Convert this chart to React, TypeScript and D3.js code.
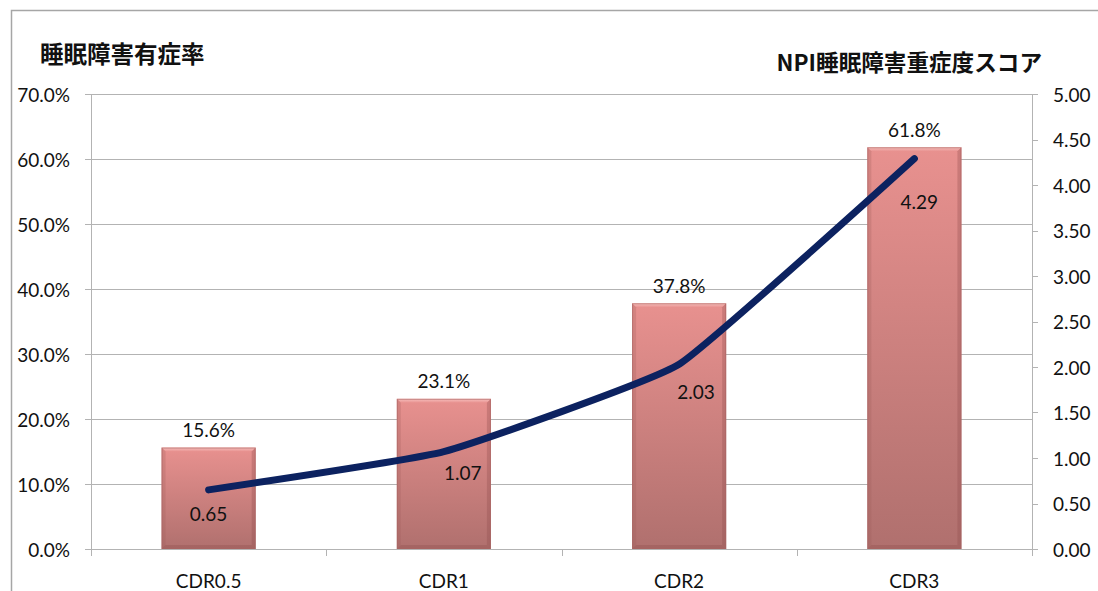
import React from "react";
import * as d3 from "d3";

const categories = ["CDR0.5", "CDR1", "CDR2", "CDR3"];
const prevalence = [15.6, 23.1, 37.8, 61.8]; // %
const severity = [0.65, 1.07, 2.03, 4.29];
const leftTicks = [0, 10, 20, 30, 40, 50, 60, 70];
const rightTicks = [0, 0.5, 1, 1.5, 2, 2.5, 3, 3.5, 4, 4.5, 5];
const leftTitle = "睡眠障害有症率";
const rightTitle = "NPI睡眠障害重症度スコア";

// label placement offsets (layout only)
const lineLabelOffsets: [number, number][] = [
  [0, 24],
  [19, 21],
  [17, 27],
  [5, 43],
];

const W = 1098;
const H = 591;
const M = { left: 91, right: 1032, top: 94, bottom: 549 };
const FONT = "Lato, 'Liberation Sans', sans-serif";
const CJK = "'Noto Sans CJK JP', sans-serif";

export default function App() {
  const x = d3
    .scaleBand<string>()
    .domain(categories)
    .range([M.left, M.right])
    .paddingInner(0.6)
    .paddingOuter(0.3);
  const step = x.step();
  const yL = d3.scaleLinear().domain([0, 70]).range([M.bottom, M.top]);
  const yR = d3.scaleLinear().domain([0, 5]).range([M.bottom, M.top]);
  const bw = x.bandwidth();
  const cx = (c: string) => (x(c) as number) + bw / 2;

  const line = d3
    .line<number>()
    .x((_, i) => cx(categories[i]))
    .y((d) => yR(d))
    .curve(d3.curveCardinal.tension(0.65));

  const grid = "#b3b3b3";
  const bevel = 4;

  return (
    <svg
      width={W}
      height={H}
      style={{ position: "fixed", left: 0, top: 0, background: "#fff" }}
    >
      <defs>
        <linearGradient id="barGrad" x1="0" y1="0" x2="0" y2="1">
          <stop offset="0" stopColor="#e8918f" />
          <stop offset="1" stopColor="#b0706e" />
        </linearGradient>
        <linearGradient id="topBevel" x1="0" y1="0" x2="0" y2="1">
          <stop offset="0" stopColor="#f6c0be" />
          <stop offset="1" stopColor="#e8918f" />
        </linearGradient>
      </defs>
      <rect x={0} y={0} width={W} height={H} fill="#fff" />
      {/* outer frame */}
      <path
        d={`M11.5,${H} L11.5,10.5 L${W},10.5`}
        fill="none"
        stroke="#a6a6a6"
        strokeWidth={1.5}
      />

      {/* gridlines + left ticks */}
      {leftTicks.map((t) => (
        <g key={"g" + t}>
          <line
            x1={M.left - 6}
            x2={M.right}
            y1={Math.round(yL(t)) + 0.5}
            y2={Math.round(yL(t)) + 0.5}
            stroke={grid}
            strokeWidth={1}
          />
          <text
            x={70}
            y={yL(t)}
            textAnchor="end"
            dominantBaseline="central"
            fontFamily={FONT}
            fontSize={19}
            fill="#111"
          >
            {t.toFixed(1)}%
          </text>
        </g>
      ))}
      {/* right ticks */}
      {rightTicks.map((t) => (
        <g key={"r" + t}>
          <line
            x1={M.right}
            x2={M.right + 6}
            y1={Math.round(yR(t)) + 0.5}
            y2={Math.round(yR(t)) + 0.5}
            stroke={grid}
          />
          <text
            x={1053}
            y={yR(t)}
            textAnchor="start"
            dominantBaseline="central"
            fontFamily={FONT}
            fontSize={19}
            fill="#111"
          >
            {t.toFixed(2)}
          </text>
        </g>
      ))}
      {/* axes lines */}
      <line x1={M.left + 0.5} x2={M.left + 0.5} y1={M.top} y2={M.bottom} stroke={grid} />
      <line x1={M.right + 0.5} x2={M.right + 0.5} y1={M.top} y2={M.bottom + 7} stroke={grid} />
      {/* category ticks */}
      {d3.range(categories.length + 1).map((i) => {
        const xx = Math.round(M.left + i * step) + 0.5;
        return (
          <line key={"ct" + i} x1={xx} x2={xx} y1={M.bottom} y2={M.bottom + 7} stroke={grid} />
        );
      })}

      {/* bars */}
      {categories.map((c, i) => {
        const x0 = x(c) as number;
        const y0 = yL(prevalence[i]);
        const h = M.bottom - y0;
        const x1 = x0 + bw;
        return (
          <g key={"b" + c}>
            <rect x={x0} y={y0} width={bw} height={h} fill="url(#barGrad)" />
            <path
              d={`M${x0},${y0} L${x1},${y0} L${x1 - bevel},${y0 + bevel} L${x0 + bevel},${y0 + bevel} Z`}
              fill="url(#topBevel)"
            />
            <path
              d={`M${x0},${y0} L${x0 + bevel},${y0 + bevel} L${x0 + bevel},${M.bottom - bevel} L${x0},${M.bottom} Z`}
              fill="#9c5a58"
              opacity={0.25}
            />
            <path
              d={`M${x1},${y0} L${x1 - bevel},${y0 + bevel} L${x1 - bevel},${M.bottom - bevel} L${x1},${M.bottom} Z`}
              fill="#8a4a48"
              opacity={0.3}
            />
            <path
              d={`M${x0},${M.bottom} L${x0 + bevel},${M.bottom - bevel} L${x1 - bevel},${M.bottom - bevel} L${x1},${M.bottom} Z`}
              fill="#8a4a48"
              opacity={0.3}
            />
            <rect
              x={x0 + 0.5}
              y={y0 + 0.5}
              width={bw - 1}
              height={h - 1}
              fill="none"
              stroke="#a86462"
              strokeWidth={1}
              opacity={0.6}
            />
            <text
              x={cx(c)}
              y={y0 - 18}
              textAnchor="middle"
              dominantBaseline="central"
              fontFamily={FONT}
              fontSize={19}
              fill="#111"
            >
              {prevalence[i].toFixed(1)}%
            </text>
          </g>
        );
      })}

      {/* bottom axis line */}
      <line x1={M.left} x2={M.right} y1={M.bottom + 0.5} y2={M.bottom + 0.5} stroke={grid} />

      {/* line series */}
      <path
        d={line(severity) || ""}
        fill="none"
        stroke="#0c2260"
        strokeWidth={7}
        strokeLinecap="round"
        strokeLinejoin="round"
      />
      {severity.map((v, i) => (
        <text
          key={"l" + i}
          x={cx(categories[i]) + lineLabelOffsets[i][0]}
          y={yR(v) + lineLabelOffsets[i][1]}
          textAnchor="middle"
          dominantBaseline="central"
          fontFamily={FONT}
          fontSize={19}
          fill="#111"
        >
          {v.toFixed(2)}
        </text>
      ))}

      {/* category labels */}
      {categories.map((c) => (
        <text
          key={"c" + c}
          x={cx(c)}
          y={580}
          textAnchor="middle"
          dominantBaseline="central"
          fontFamily={FONT}
          fontSize={19}
          fill="#111"
        >
          {c}
        </text>
      ))}

      {/* titles */}
      <text
        x={40}
        y={53}
        dominantBaseline="central"
        fontFamily={CJK}
        fontWeight="bold"
        fontSize={23.5}
        fill="#111"
      >
        {leftTitle}
      </text>
      <text
        x={1042}
        y={61}
        textAnchor="end"
        dominantBaseline="central"
        fontFamily={CJK}
        fontWeight="bold"
        fontSize={22.6}
        fill="#111"
      >
        {rightTitle}
      </text>
    </svg>
  );
}
